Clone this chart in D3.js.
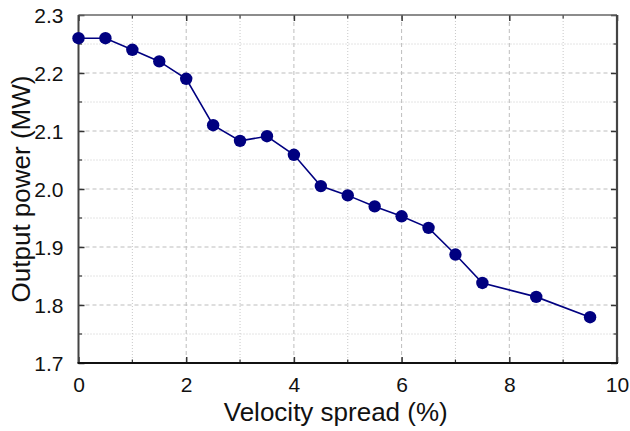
<!DOCTYPE html>
<html>
<head>
<meta charset="utf-8">
<script src="https://cdn.jsdelivr.net/npm/d3@7"></script>
<style>
  html, body { margin: 0; padding: 0; background: #fff; }
  svg { display: block; font-family: "Liberation Sans", Arial, sans-serif; }
</style>
</head>
<body>
<svg id="chart" width="630" height="431"></svg>
<script>
// Output power versus electron velocity spread
const spread = [0, 0.5, 1, 1.5, 2, 2.5, 3, 3.5, 4, 4.5, 5, 5.5, 6, 6.5, 7, 7.5, 8.5, 9.5];
const power  = [2.26, 2.26, 2.24, 2.22, 2.19, 2.11, 2.083, 2.091, 2.059, 2.005, 1.989, 1.970, 1.953, 1.933, 1.887, 1.838, 1.814, 1.779];

const xMajor = [0, 2, 4, 6, 8, 10];
const xMinor = [1, 3, 5, 7, 9];
const yMajor = [1.7, 1.8, 1.9, 2.0, 2.1, 2.2, 2.3];
const yMinor = [1.75, 1.85, 1.95, 2.05, 2.15, 2.25];

const margin = { left: 78.5, right: 13, top: 15, bottom: 68 };
const W = 630, H = 431;
const iw = W - margin.left - margin.right;
const ih = H - margin.top - margin.bottom;

const svg = d3.select("#chart");
const g = svg.append("g").attr("transform", `translate(${margin.left},${margin.top})`);

const x = d3.scaleLinear().domain([0, 10]).range([0, iw]);
const y = d3.scaleLinear().domain([1.7, 2.3]).range([ih, 0]);

// grid: dashed at major ticks, dotted at minor ticks
const grid = g.append("g").attr("class", "grid");
grid.selectAll("line.xmaj").data(xMajor.slice(1, -1)).join("line")
  .attr("x1", d => x(d)).attr("x2", d => x(d)).attr("y1", 0).attr("y2", ih)
  .attr("stroke", "#bdbdbd").attr("stroke-width", 1).attr("stroke-dasharray", "4,3");
grid.selectAll("line.xmin").data(xMinor).join("line")
  .attr("x1", d => x(d)).attr("x2", d => x(d)).attr("y1", 0).attr("y2", ih)
  .attr("stroke", "#c8c8c8").attr("stroke-width", 1).attr("stroke-dasharray", "1,2");
grid.selectAll("line.ymaj").data(yMajor.slice(1, -1)).join("line")
  .attr("y1", d => y(d)).attr("y2", d => y(d)).attr("x1", 0).attr("x2", iw)
  .attr("stroke", "#bdbdbd").attr("stroke-width", 1).attr("stroke-dasharray", "4,3");
grid.selectAll("line.ymin").data(yMinor).join("line")
  .attr("y1", d => y(d)).attr("y2", d => y(d)).attr("x1", 0).attr("x2", iw)
  .attr("stroke", "#c8c8c8").attr("stroke-width", 1).attr("stroke-dasharray", "1,2");

// inward ticks on all four sides
const fmtY = d3.format(".1f");
const bottomAxis = d3.axisBottom(x).tickValues(xMajor).tickSizeInner(-6).tickSizeOuter(0).tickPadding(14).tickFormat(d3.format("d"));
const leftAxis = d3.axisLeft(y).tickValues(yMajor).tickSizeInner(-6).tickSizeOuter(0).tickPadding(15).tickFormat(fmtY);

const ax = g.append("g").attr("transform", `translate(0,${ih})`).call(bottomAxis);
const ay = g.append("g").call(leftAxis);
[ax, ay].forEach(a => {
  a.select(".domain").remove();
  a.selectAll(".tick line").attr("stroke", "#333").attr("stroke-width", 1.5);
  a.selectAll(".tick text").attr("fill", "#111").style("font-size", "21px")
    .style("font-family", "'Liberation Sans', Arial, sans-serif");
});
ay.selectAll(".tick text").attr("dy", "0.36em");

const topAxis = d3.axisTop(x).tickValues(xMajor).tickSizeInner(-6).tickSizeOuter(0).tickFormat("");
const rightAxis = d3.axisRight(y).tickValues(yMajor).tickSizeInner(-6).tickSizeOuter(0).tickFormat("");
const at = g.append("g").call(topAxis);
const ar = g.append("g").attr("transform", `translate(${iw},0)`).call(rightAxis);
[at, ar].forEach(a => {
  a.select(".domain").remove();
  a.selectAll(".tick line").attr("stroke", "#333").attr("stroke-width", 1.5);
});

// minor ticks
const minorTicks = g.append("g").attr("stroke", "#333").attr("stroke-width", 1.2);
xMinor.forEach(d => {
  minorTicks.append("line").attr("x1", x(d)).attr("x2", x(d)).attr("y1", ih).attr("y2", ih - 3.5);
  minorTicks.append("line").attr("x1", x(d)).attr("x2", x(d)).attr("y1", 0).attr("y2", 3.5);
});
yMinor.forEach(d => {
  minorTicks.append("line").attr("y1", y(d)).attr("y2", y(d)).attr("x1", 0).attr("x2", 3.5);
  minorTicks.append("line").attr("y1", y(d)).attr("y2", y(d)).attr("x1", iw).attr("x2", iw - 3.5);
});

// frame
g.append("line").attr("x1", 0).attr("x2", iw).attr("y1", 0).attr("y2", 0)
  .attr("stroke", "#666").attr("stroke-width", 1.5);
g.append("line").attr("x1", iw).attr("x2", iw).attr("y1", 0).attr("y2", ih)
  .attr("stroke", "#444").attr("stroke-width", 2.2);
g.append("line").attr("x1", 0).attr("x2", 0).attr("y1", 0).attr("y2", ih)
  .attr("stroke", "#444").attr("stroke-width", 2);
g.append("line").attr("x1", -1).attr("x2", iw + 1).attr("y1", ih).attr("y2", ih)
  .attr("stroke", "#111").attr("stroke-width", 2);

// data line and markers
const pts = spread.map((s, i) => ({ s, p: power[i] }));
g.append("path").datum(pts)
  .attr("fill", "none").attr("stroke", "#000080").attr("stroke-width", 1.6)
  .attr("d", d3.line().x(d => x(d.s)).y(d => y(d.p)));
g.selectAll("circle.pt").data(pts).join("circle")
  .attr("class", "pt")
  .attr("cx", d => x(d.s)).attr("cy", d => y(d.p)).attr("r", 6.2)
  .attr("fill", "#000080");

// axis titles
svg.append("text")
  .attr("x", margin.left + iw / 2 - 12).attr("y", 421)
  .attr("text-anchor", "middle").attr("fill", "#111")
  .style("font-size", "26px")
  .text("Velocity spread (%)");
svg.append("text")
  .attr("transform", `translate(30,${margin.top + ih / 2}) rotate(-90)`)
  .attr("text-anchor", "middle").attr("fill", "#111")
  .style("font-size", "26px")
  .text("Output power (MW)");
</script>
</body>
</html>
